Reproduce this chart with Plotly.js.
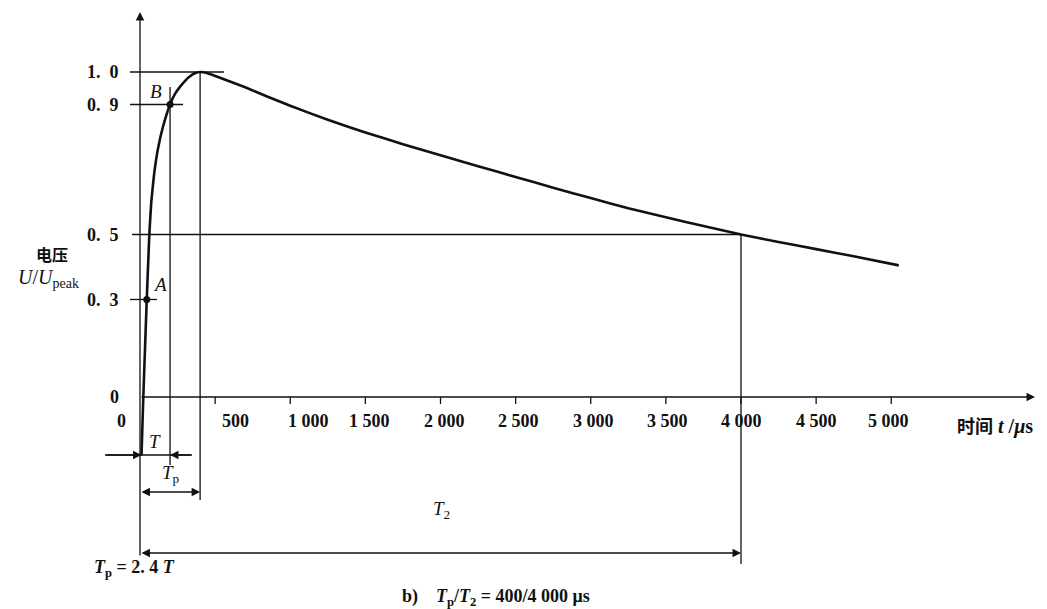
<!DOCTYPE html>
<html><head><meta charset="utf-8">
<script src="https://cdn.plot.ly/plotly-3.0.1.min.js"></script>
<style>html,body{margin:0;padding:0;background:#fff}</style>
</head><body><div id="chart" style="width:1047px;height:609px"></div>
<script>
// ---- data ----
const frontTime = [10, 22, 45, 62, 75, 95, 120, 152, 200, 232, 267, 300, 333, 365, 400];
const frontU    = [-0.18, 0, 0.3, 0.5, 0.6, 0.69, 0.765, 0.83, 0.9, 0.932, 0.955, 0.973, 0.987, 0.996, 1.0];
const tailTime  = [450, 550, 700, 850, 1000, 1250, 1500, 1750, 2000, 2250, 2500, 2750, 3000, 3250, 3500, 3750, 4000, 4250, 4500, 4750, 5050];
const tailU     = [0.996, 0.979, 0.953, 0.924, 0.896, 0.853, 0.814, 0.778, 0.744, 0.71, 0.677, 0.644, 0.612, 0.581, 0.553, 0.526, 0.5, 0.477, 0.455, 0.433, 0.405];
const pointNames = ['A', 'B'];
const pointTime  = [45, 200];
const pointU     = [0.3, 0.9];
const peakTime = 400;
const halfTime = 4000;
const yTickVals = [1.0, 0.9, 0.5, 0.3, 0];
const yTickText = ['1.\u20020', '0.\u20029', '0.\u20025', '0.\u20023', '0'];
const xTickVals = [0, 500, 1000, 1500, 2000, 2500, 3000, 3500, 4000, 4500, 5000];
const xTickText = ['0', '500', '1 000', '1 500', '2 000', '2 500', '3 000', '3 500', '4 000', '4 500', '5 000'];

// ---- geometry (pixel frame of the figure) ----
const W = 1047, H = 609;
const PX0 = 140, PX4000 = 741, s = (PX4000 - PX0) / 4000;
const PY0 = 397, PY1 = 72, k = PY0 - PY1;
const X = px => (px - PX0) / s;
const Y = py => (PY0 - py) / k;
const xr = [X(0), X(W)], yr = [Y(H), Y(0)];
const labelNudge = [0, 20, 18, 4, 4, 3, 3, 2, 0, 0, -3];   // pixel shifts of the x tick labels

const serif = 'Liberation Serif, Times New Roman, serif';
const cjk = 'Noto Sans CJK SC, sans-serif';
const black = '#111';
const boldFont = size => ({family: serif, size: size, color: black, weight: 'bold'});
const italFont = size => ({family: serif, size: size, color: black});

const shapes = [];
const line = (x0, y0, x1, y1, w) => shapes.push({type: 'line', xref: 'x', yref: 'y', x0, y0, x1, y1, line: {color: black, width: w || 1.3}});
const ann = [];
const arrow = (x0, y0, x1, y1, both) => ann.push({xref: 'x', yref: 'y', axref: 'x', ayref: 'y', x: x1, y: y1, ax: x0, ay: y0, text: '', showarrow: true, arrowhead: 2, arrowsize: 1.3, arrowwidth: 1.3, arrowcolor: black, standoff: 0, startstandoff: 0, arrowside: both ? 'end+start' : 'end'});
const text = (x, y, t, font, opts) => ann.push(Object.assign({xref: 'x', yref: 'y', x, y, text: t, showarrow: false, font: font}, opts || {}));

// axes
arrow(0, Y(557), 0, Y(12));
arrow(0, 0, X(1035), 0);
// horizontal guide lines
line(X(130), 1.0, X(224), 1.0);
line(X(130), 0.9, X(183), 0.9);
line(X(132), 0.5, halfTime, 0.5);
line(X(130), 0.3, X(157), 0.3);
// vertical guide lines
line(pointTime[1], Y(87), pointTime[1], Y(465));
line(peakTime, 1.0, peakTime, Y(500));
line(halfTime, 0.5, halfTime, Y(564));
// x ticks
xTickVals.slice(1).forEach(v => line(v, 0, v, Y(404), 1.3));
// dimension arrows
line(X(105), Y(455), X(192), Y(455));
arrow(X(105), Y(455), frontTime[0], Y(455));
arrow(X(192), Y(455), pointTime[1], Y(455));
arrow(0, Y(492), peakTime, Y(492), true);
arrow(0, Y(553), halfTime, Y(553), true);

// tick labels
yTickVals.forEach((v, i) => text(X(121), v, yTickText[i], boldFont(18), {xanchor: 'right', yanchor: 'middle'}));
xTickVals.forEach((v, i) => text(i === 0 ? X(128) : v, Y(421), xTickText[i], boldFont(18), {xanchor: i === 0 ? 'right' : 'center', yanchor: 'middle', xshift: labelNudge[i]}));

// labels
text(X(52), Y(254), '电压', {family: cjk, size: 16, color: black, weight: 'bold'});
text(X(48), Y(278), '<i>U</i>/<i>U</i><sub>peak</sub>', italFont(20));
text(X(151), Y(284), '<i>A</i>', italFont(19), {xanchor: 'left'});
text(X(156), Y(91), '<i>B</i>', italFont(19));
text(X(155), Y(441), '<i>T</i>', italFont(19));
text(X(171), Y(474), '<i>T</i><sub>p</sub>', italFont(19));
text(X(441), Y(510), '<i>T</i><sub>2</sub>', italFont(19));
text(X(955), Y(425), '<span style="font-family:Noto Sans CJK SC;font-size:18px">时间</span> <i>t</i> /<i>μ</i>s', boldFont(20), {xanchor: 'left'});
text(X(92), Y(568), '<i>T</i><sub>p</sub> = 2. 4 <i>T</i>', boldFont(18), {xanchor: 'left'});
text(X(400), Y(597), 'b)    <i>T</i><sub>p</sub>/<i>T</i><sub>2</sub> = 400/4 000 μs', boldFont(18), {xanchor: 'left'});

const traces = [
  {x: frontTime.concat(tailTime), y: frontU.concat(tailU), mode: 'lines', line: {color: black, width: 2.6, shape: 'spline', smoothing: 0.3}, hoverinfo: 'skip'},
  {x: pointTime, y: pointU, text: pointNames, mode: 'markers', marker: {color: black, size: 7}, hoverinfo: 'skip'}
];

Plotly.newPlot('chart', traces, {
  width: W, height: H, margin: {l: 0, r: 0, t: 0, b: 0},
  paper_bgcolor: '#fff', plot_bgcolor: '#fff', showlegend: false,
  xaxis: {range: xr, visible: false, fixedrange: true},
  yaxis: {range: yr, visible: false, fixedrange: true},
  shapes: shapes, annotations: ann
}, {staticPlot: true});
</script></body></html>
